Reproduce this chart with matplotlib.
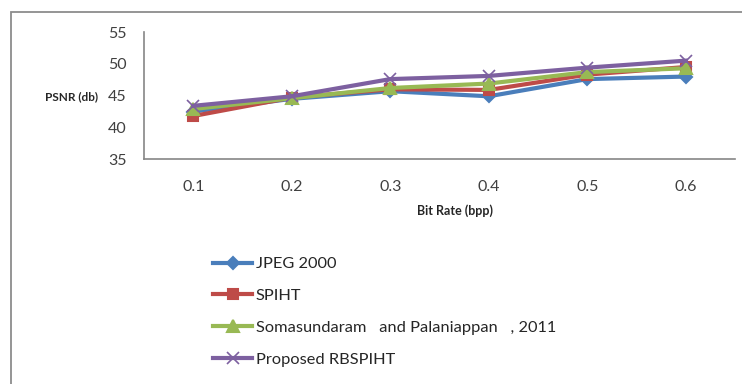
import matplotlib
matplotlib.use("Agg")
import matplotlib.pyplot as plt
from matplotlib.patches import Rectangle

plt.rcParams['font.family'] = ['Lato', 'DejaVu Sans']

categories = ["0.1", "0.2", "0.3", "0.4", "0.5", "0.6"]
jpeg2000 = [42.5, 44.5, 45.7, 44.9, 47.6, 48.0]
spiht = [41.8, 44.7, 46.0, 45.9, 48.3, 49.5]
somasundaram = [42.9, 44.6, 46.2, 46.9, 48.7, 49.3]
proposed = [43.4, 44.9, 47.6, 48.1, 49.4, 50.5]
series_names = ["JPEG 2000", "SPIHT", "Somasundaram   and Palaniappan   , 2011", "Proposed RBSPIHT"]
y_ticks = [35, 40, 45, 50, 55]

W, H = 742, 384
fig = plt.figure(figsize=(W / 100, H / 100), dpi=100)

# outer chart border (extends past right/bottom edge)
fig.patches.append(Rectangle((11 / W, -0.05), 1.1, 1 - 12 / H + 0.05, transform=fig.transFigure,
                             fill=False, edgecolor="#8c8c8c", linewidth=1.3, zorder=0))

left, right, top, bottom = 144, 735, 32, 159.3
ax = fig.add_axes([left / W, 1 - bottom / H, (right - left) / W, (bottom - top) / H])

x = list(range(len(categories)))
styles = [
    (jpeg2000, "#4A7EBB", "D", 6.5),
    (spiht, "#BE4B48", "s", 7.5),
    (somasundaram, "#98B954", "^", 8),
    (proposed, "#7D60A0", "x", 8),
]
for (vals, col, mk, ms), name in zip(styles, series_names):
    ax.plot(x, vals, color=col, lw=3, marker=mk, markersize=ms, markeredgewidth=1.5 if mk != "x" else 1.2,
            markerfacecolor=col, markeredgecolor=col, label=name)

ax.set_xlim(-0.5, len(categories) - 0.5)
ax.set_ylim(35, 55)
ax.set_yticks(y_ticks)
ax.set_xticks(x)
ax.set_xticklabels(categories)
ax.tick_params(axis="both", length=0, labelsize=11.5, colors="#404040")
ax.tick_params(axis="y", pad=12.5)
ax.tick_params(axis="x", pad=15)
for s in ["top", "right"]:
    ax.spines[s].set_visible(False)
for s in ["left", "bottom"]:
    ax.spines[s].set_color("#868686")
    ax.spines[s].set_linewidth(1.2)

fig.text(98 / W, 1 - 97 / H, "PSNR (db)", ha="right", va="center", fontsize=8.5, fontweight="bold", color="#262626")
fig.text(455 / W, 1 - 211 / H, "Bit Rate (bpp)", ha="center", va="center", fontsize=9, fontweight="bold", color="#262626")

leg = fig.legend(loc="upper left", bbox_to_anchor=(213 / W, 1 - 257 / H), frameon=False,
                 fontsize=11.8, handlelength=2.4, handletextpad=0.2, labelspacing=1.05,
                 borderpad=0, borderaxespad=0)
for t in leg.get_texts():
    t.set_color("#262626")

fig.savefig("out.png", dpi=100)
